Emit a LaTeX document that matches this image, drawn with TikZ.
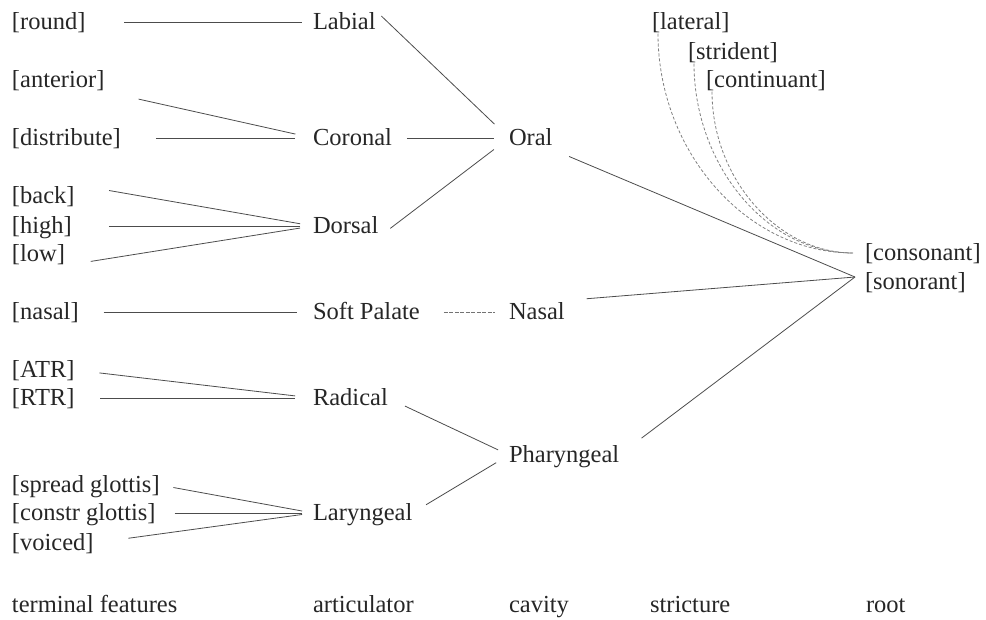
\documentclass[tikz,border=0pt]{standalone}
\usepackage{fontspec}
\setmainfont{Liberation Serif}
\usepackage{tikz}
\usetikzlibrary{positioning}

\tikzset{
    feat/.style={anchor=west, inner sep=0pt, outer sep=0pt, text height=19pt, text depth=4pt, text=black!85},
    link/.style={draw=black!70, line width=0.8pt},
    faint/.style={draw=black!55, line width=0.8pt, dash pattern=on 4pt off 1.5pt},
    strict/.style={draw=black!50, line width=0.8pt, dash pattern=on 3pt off 2pt},
}

\begin{document}
\begin{tikzpicture}[x=1pt, y=-1pt, every node/.style={font=\fontsize{24.5}{29}\selectfont}]
            \useasboundingbox (0,0) rectangle (986,619);

            % terminal features
            \node[feat] (round) at (12,22) {[round]};
            \node[feat] (anterior) at (12,80) {[anterior]};
            \node[feat] (distribute) at (12,138) {[distribute]};
            \node[feat] (back) at (12,196) {[back]};
            \node[feat] (high) at (12,226) {[high]};
            \node[feat] (low) at (12,254) {[low]};
            \node[feat] (nasalf) at (12,312) {[nasal]};
            \node[feat] (atr) at (12,370) {[ATR]};
            \node[feat] (rtr) at (12,398) {[RTR]};
            \node[feat] (spread) at (12,485) {[spread glottis]};
            \node[feat] (constr) at (12,513) {[constr glottis]};
            \node[feat] (voiced) at (12,543) {[voiced]};

            % articulators
            \node[feat] (labial) at (313,22) {Labial};
            \node[feat] (coronal) at (313,138) {Coronal};
            \node[feat] (dorsal) at (313,226) {Dorsal};
            \node[feat] (softpal) at (313,312) {Soft Palate};
            \node[feat] (radical) at (313,398) {Radical};
            \node[feat] (laryngeal) at (313,513) {Laryngeal};

            % cavities
            \node[feat] (oral) at (509,138) {Oral};
            \node[feat] (nasal) at (509,312) {Nasal};
            \node[feat] (pharyngeal) at (509,455) {Pharyngeal};

            % stricture
            \node[feat] (lateral) at (652,22) {[lateral]};
            \node[feat] (strident) at (688,52) {[strident]};
            \node[feat] (continuant) at (706,80) {[continuant]};

            % root
            \node[feat] (consonant) at (865,253) {[consonant]};
            \node[feat] (sonorant) at (865,282) {[sonorant]};
            \coordinate (root) at ([xshift=-10pt, yshift=5pt]sonorant.west);

            % tiers
            \node[feat] (tterm) at (12,605) {terminal features};
            \node[feat] (tartic) at (313,605) {articulator};
            \node[feat] (tcav) at (509,605) {cavity};
            \node[feat] (tstric) at (650,605) {stricture};
            \node[feat] (troot) at (866,605) {root};

            \draw[link] (round.east) edge[shorten <=39pt, shorten >=11pt] (labial.west)
                    (anterior.south east) edge[shorten <=35pt, shorten >=18pt] (coronal.west)
                    (distribute.east) edge[shorten <=35pt, shorten >=18pt] (coronal.west)

                    (back.north east) edge[shorten <=35pt, shorten >=13pt] (dorsal.west)
                    (high.east) edge[shorten <=37pt, shorten >=13pt] (dorsal.west)
                    (low.south east) edge[shorten <=26pt, shorten >=13pt] (dorsal.west)

                    (labial.north east) edge[shorten <=8pt, shorten >=20pt] (oral.west)
                    (coronal.east) edge[shorten <=15pt, shorten >=15pt] (oral.west)
                    (dorsal.south east) edge[shorten <=15pt, shorten >=19pt] (oral.west)

                    (nasalf.east) edge[shorten <=25pt, shorten >=16pt] (softpal.west)
                    (softpal.east) edge[faint, shorten <=24pt, shorten >=14pt] (nasal.west)

                    (atr.east) edge[shorten <=25pt, shorten >=18pt] (radical.west)
                    (rtr.east) edge[shorten <=26pt, shorten >=18pt] (radical.west)

                    (spread.east) edge[shorten <=14pt, shorten >=11pt] (laryngeal.west)
                    (constr.east) edge[shorten <=19pt, shorten >=11pt] (laryngeal.west)
                    (voiced.east) edge[shorten <=35pt, shorten >=11pt] (laryngeal.west)

                    (radical.east) edge[shorten <=19pt, shorten >=12pt] (pharyngeal.west)
                    (laryngeal.east) edge[shorten <=16pt, shorten >=15pt] (pharyngeal.west)

                    (oral.south east) edge[shorten <=18pt] (root)
                    (nasal.north east) edge[shorten <=22pt] (root)
                    (pharyngeal.east) edge[shorten <=28pt] (root)

                    ([xshift=6pt]lateral.south west) edge[strict, out=-90, in=180, shorten >=12pt] (consonant.west)
                    ([xshift=6pt]strident.south west) edge[strict, out=-90, in=180, shorten >=12pt] (consonant.west)
                    ([xshift=6pt]continuant.south west) edge[strict, out=-90, in=180, shorten >=12pt] (consonant.west)
                    ;
\end{tikzpicture}
\end{document}
